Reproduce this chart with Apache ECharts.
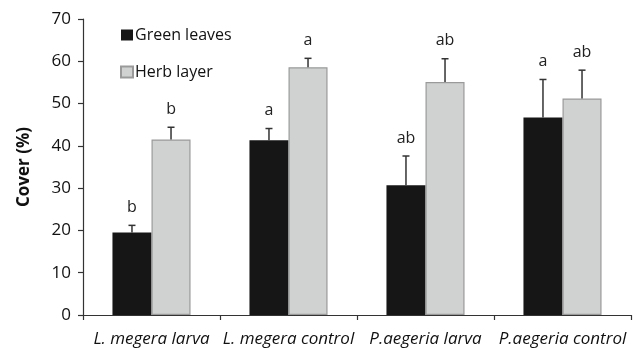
<!DOCTYPE html>
<html>
<head>
<meta charset="utf-8">
<script src="https://cdn.jsdelivr.net/npm/echarts@6/dist/echarts.min.js"></script>
<style>
html,body{margin:0;padding:0;background:#fff;}
#chart{width:642px;height:348px;}
</style>
</head>
<body>
<div id="chart"></div>
<script>
const categories = ['L. megera larva', 'L. megera control', 'P.aegeria larva', 'P.aegeria control'];
const greenLeaves = [19.5, 41.3, 30.7, 46.7];
const greenErr = [1.7, 2.8, 6.9, 9.0];
const greenLetters = ['b', 'a', 'ab', 'a'];
const herbLayer = [41.5, 58.6, 55.1, 51.2];
const herbErr = [2.9, 2.1, 5.5, 6.7];
const herbLetters = ['b', 'a', 'ab', 'ab'];
const yTicks = [0, 10, 20, 30, 40, 50, 60, 70];

const FONT = "'Open Sans', 'Liberation Sans', sans-serif";
const GAP = 0.43;

function errSeries(means, errs, letters, side) {
  return {
    type: 'custom',
    z: 5,
    silent: true,
    data: means.map((m, i) => [i, m, errs[i]]),
    renderItem: function (params, api) {
      const idx = api.value(0);
      const mean = api.value(1);
      const err = api.value(2);
      const letter = letters[idx];
      const band = api.size([1, 0])[0];
      const bw = band * (1 - GAP) / 2;
      const base = api.coord([idx, mean]);
      const top = api.coord([idx, mean + err]);
      const x = base[0] + side * bw / 2;
      return {
        type: 'group',
        children: [
          { type: 'line', shape: { x1: x, y1: base[1], x2: x, y2: top[1] }, style: { stroke: '#333', lineWidth: 1.5 } },
          { type: 'line', shape: { x1: x - 3.5, y1: top[1], x2: x + 3.5, y2: top[1] }, style: { stroke: '#333', lineWidth: 1.5 } },
          { type: 'text', x: x, y: top[1] - 18, style: { text: letter, fill: '#222', font: '16px ' + FONT, align: 'center', verticalAlign: 'middle' } }
        ]
      };
    }
  };
}

const chart = echarts.init(document.getElementById('chart'), null, { renderer: 'canvas' });
chart.setOption({
  animation: false,
  backgroundColor: '#fff',
  textStyle: { fontFamily: FONT },
  grid: { left: 83, right: 11, top: 19, bottom: 32, containLabel: false },
  legend: {
    orient: 'vertical',
    left: 115,
    top: 22,
    itemWidth: 12,
    itemHeight: 11,
    itemGap: 21,
    icon: 'rect',
    textStyle: { fontFamily: FONT, fontSize: 16, color: '#111', padding: [0, 0, 0, -3] },
    data: ['Green leaves', 'Herb layer']
  },
  xAxis: {
    type: 'category',
    data: categories,
    axisLine: { lineStyle: { color: '#333', width: 1.2 } },
    axisTick: { show: true, length: 5, lineStyle: { color: '#333', width: 1.2 } },
    axisLabel: { fontFamily: FONT, fontSize: 17, fontStyle: 'italic', color: '#111', margin: 16, interval: 0 },
    splitLine: { show: false }
  },
  yAxis: {
    type: 'value',
    min: yTicks[0],
    max: yTicks[yTicks.length - 1],
    interval: 10,
    name: 'Cover (%)',
    nameLocation: 'middle',
    nameGap: 50,
    nameRotate: 90,
    nameTextStyle: { fontFamily: FONT, fontSize: 17, fontWeight: 'bold', color: '#111' },
    axisLine: { show: true, lineStyle: { color: '#333', width: 1.2 } },
    axisTick: { show: true, length: 5, inside: false, lineStyle: { color: '#333', width: 1.2 } },
    axisLabel: { fontFamily: FONT, fontSize: 17, color: '#111', margin: 12 },
    splitLine: { show: false }
  },
  series: [
    {
      name: 'Green leaves',
      type: 'bar',
      data: greenLeaves,
      barGap: '0%',
      barCategoryGap: (GAP * 100) + '%',
      itemStyle: { color: '#161616', borderColor: '#161616', borderWidth: 0 }
    },
    {
      name: 'Herb layer',
      type: 'bar',
      data: herbLayer,
      barGap: '0%',
      barCategoryGap: (GAP * 100) + '%',
      itemStyle: { color: '#d0d2d2', borderColor: '#9a9a9a', borderWidth: 1.2 }
    },
    errSeries(greenLeaves, greenErr, greenLetters, -1),
    errSeries(herbLayer, herbErr, herbLetters, 1)
  ]
});
</script>
</body>
</html>
